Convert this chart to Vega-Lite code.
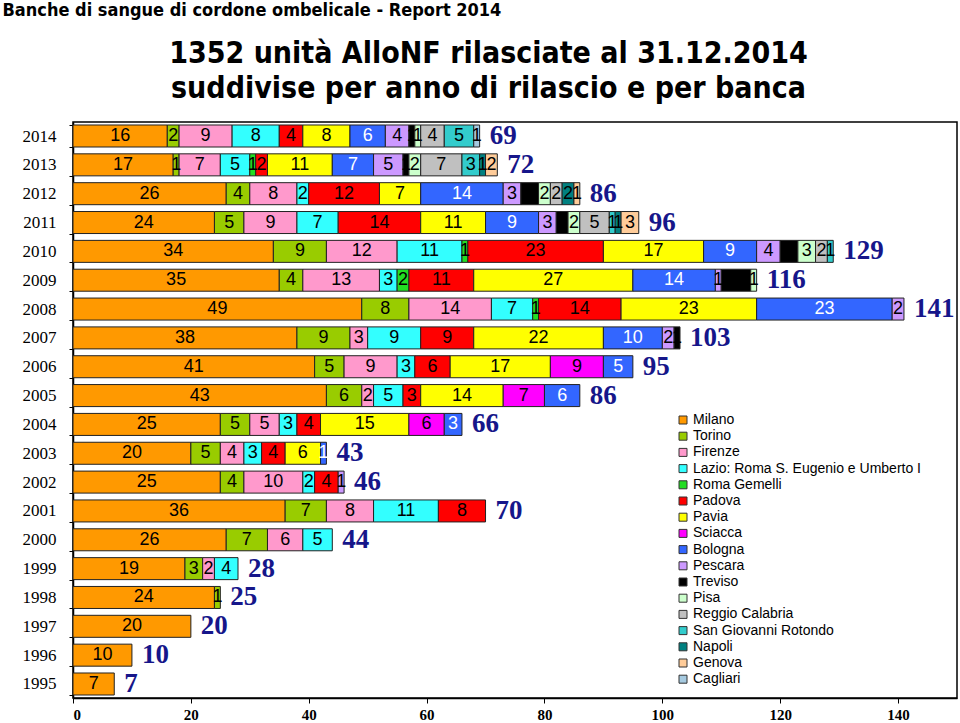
{
  "$schema": "https://vega.github.io/schema/vega-lite/v6.json",
  "autosize": {"type": "none"},
  "padding": {"left": 73, "top": 122, "right": 3, "bottom": 25},
  "width": 884,
  "height": 576,
  "background": "white",
  "config": {"view": {"stroke": "#000", "strokeWidth": 1.5}, "font": "Liberation Sans"},
  "datasets": {
    "banche": [
      {"banca": "Milano", "ord": 1},
      {"banca": "Torino", "ord": 2},
      {"banca": "Firenze", "ord": 3},
      {"banca": "Lazio: Roma S. Eugenio e Umberto I", "ord": 4},
      {"banca": "Roma Gemelli", "ord": 5},
      {"banca": "Padova", "ord": 6},
      {"banca": "Pavia", "ord": 7},
      {"banca": "Sciacca", "ord": 8},
      {"banca": "Bologna", "ord": 9},
      {"banca": "Pescara", "ord": 10},
      {"banca": "Treviso", "ord": 11},
      {"banca": "Pisa", "ord": 12},
      {"banca": "Reggio Calabria", "ord": 13},
      {"banca": "San Giovanni Rotondo", "ord": 14},
      {"banca": "Napoli", "ord": 15},
      {"banca": "Genova", "ord": 16},
      {"banca": "Cagliari", "ord": 17}
    ]
  },
  "data": {"values": [
    {"anno": 2014, "banca": "Milano", "n": 16},
    {"anno": 2014, "banca": "Torino", "n": 2},
    {"anno": 2014, "banca": "Firenze", "n": 9},
    {"anno": 2014, "banca": "Lazio: Roma S. Eugenio e Umberto I", "n": 8},
    {"anno": 2014, "banca": "Padova", "n": 4},
    {"anno": 2014, "banca": "Pavia", "n": 8},
    {"anno": 2014, "banca": "Bologna", "n": 6},
    {"anno": 2014, "banca": "Pescara", "n": 4},
    {"anno": 2014, "banca": "Treviso", "n": 1},
    {"anno": 2014, "banca": "Pisa", "n": 1},
    {"anno": 2014, "banca": "Reggio Calabria", "n": 4},
    {"anno": 2014, "banca": "San Giovanni Rotondo", "n": 5},
    {"anno": 2014, "banca": "Cagliari", "n": 1},

    {"anno": 2013, "banca": "Milano", "n": 17},
    {"anno": 2013, "banca": "Torino", "n": 1},
    {"anno": 2013, "banca": "Firenze", "n": 7},
    {"anno": 2013, "banca": "Lazio: Roma S. Eugenio e Umberto I", "n": 5},
    {"anno": 2013, "banca": "Roma Gemelli", "n": 1},
    {"anno": 2013, "banca": "Padova", "n": 2},
    {"anno": 2013, "banca": "Pavia", "n": 11},
    {"anno": 2013, "banca": "Bologna", "n": 7},
    {"anno": 2013, "banca": "Pescara", "n": 5},
    {"anno": 2013, "banca": "Treviso", "n": 1},
    {"anno": 2013, "banca": "Pisa", "n": 2},
    {"anno": 2013, "banca": "Reggio Calabria", "n": 7},
    {"anno": 2013, "banca": "San Giovanni Rotondo", "n": 3},
    {"anno": 2013, "banca": "Napoli", "n": 1},
    {"anno": 2013, "banca": "Genova", "n": 2},

    {"anno": 2012, "banca": "Milano", "n": 26},
    {"anno": 2012, "banca": "Torino", "n": 4},
    {"anno": 2012, "banca": "Firenze", "n": 8},
    {"anno": 2012, "banca": "Lazio: Roma S. Eugenio e Umberto I", "n": 2},
    {"anno": 2012, "banca": "Padova", "n": 12},
    {"anno": 2012, "banca": "Pavia", "n": 7},
    {"anno": 2012, "banca": "Bologna", "n": 14},
    {"anno": 2012, "banca": "Pescara", "n": 3},
    {"anno": 2012, "banca": "Treviso", "n": 3},
    {"anno": 2012, "banca": "Pisa", "n": 2},
    {"anno": 2012, "banca": "Reggio Calabria", "n": 2},
    {"anno": 2012, "banca": "Napoli", "n": 2},
    {"anno": 2012, "banca": "Genova", "n": 1},

    {"anno": 2011, "banca": "Milano", "n": 24},
    {"anno": 2011, "banca": "Torino", "n": 5},
    {"anno": 2011, "banca": "Firenze", "n": 9},
    {"anno": 2011, "banca": "Lazio: Roma S. Eugenio e Umberto I", "n": 7},
    {"anno": 2011, "banca": "Padova", "n": 14},
    {"anno": 2011, "banca": "Pavia", "n": 11},
    {"anno": 2011, "banca": "Bologna", "n": 9},
    {"anno": 2011, "banca": "Pescara", "n": 3},
    {"anno": 2011, "banca": "Treviso", "n": 2},
    {"anno": 2011, "banca": "Pisa", "n": 2},
    {"anno": 2011, "banca": "Reggio Calabria", "n": 5},
    {"anno": 2011, "banca": "San Giovanni Rotondo", "n": 1},
    {"anno": 2011, "banca": "Napoli", "n": 1},
    {"anno": 2011, "banca": "Genova", "n": 3},

    {"anno": 2010, "banca": "Milano", "n": 34},
    {"anno": 2010, "banca": "Torino", "n": 9},
    {"anno": 2010, "banca": "Firenze", "n": 12},
    {"anno": 2010, "banca": "Lazio: Roma S. Eugenio e Umberto I", "n": 11},
    {"anno": 2010, "banca": "Roma Gemelli", "n": 1},
    {"anno": 2010, "banca": "Padova", "n": 23},
    {"anno": 2010, "banca": "Pavia", "n": 17},
    {"anno": 2010, "banca": "Bologna", "n": 9},
    {"anno": 2010, "banca": "Pescara", "n": 4},
    {"anno": 2010, "banca": "Treviso", "n": 3},
    {"anno": 2010, "banca": "Pisa", "n": 3},
    {"anno": 2010, "banca": "Reggio Calabria", "n": 2},
    {"anno": 2010, "banca": "San Giovanni Rotondo", "n": 1},

    {"anno": 2009, "banca": "Milano", "n": 35},
    {"anno": 2009, "banca": "Torino", "n": 4},
    {"anno": 2009, "banca": "Firenze", "n": 13},
    {"anno": 2009, "banca": "Lazio: Roma S. Eugenio e Umberto I", "n": 3},
    {"anno": 2009, "banca": "Roma Gemelli", "n": 2},
    {"anno": 2009, "banca": "Padova", "n": 11},
    {"anno": 2009, "banca": "Pavia", "n": 27},
    {"anno": 2009, "banca": "Bologna", "n": 14},
    {"anno": 2009, "banca": "Pescara", "n": 1},
    {"anno": 2009, "banca": "Treviso", "n": 5},
    {"anno": 2009, "banca": "Pisa", "n": 1},

    {"anno": 2008, "banca": "Milano", "n": 49},
    {"anno": 2008, "banca": "Torino", "n": 8},
    {"anno": 2008, "banca": "Firenze", "n": 14},
    {"anno": 2008, "banca": "Lazio: Roma S. Eugenio e Umberto I", "n": 7},
    {"anno": 2008, "banca": "Roma Gemelli", "n": 1},
    {"anno": 2008, "banca": "Padova", "n": 14},
    {"anno": 2008, "banca": "Pavia", "n": 23},
    {"anno": 2008, "banca": "Bologna", "n": 23},
    {"anno": 2008, "banca": "Pescara", "n": 2},

    {"anno": 2007, "banca": "Milano", "n": 38},
    {"anno": 2007, "banca": "Torino", "n": 9},
    {"anno": 2007, "banca": "Firenze", "n": 3},
    {"anno": 2007, "banca": "Lazio: Roma S. Eugenio e Umberto I", "n": 9},
    {"anno": 2007, "banca": "Padova", "n": 9},
    {"anno": 2007, "banca": "Pavia", "n": 22},
    {"anno": 2007, "banca": "Bologna", "n": 10},
    {"anno": 2007, "banca": "Pescara", "n": 2},
    {"anno": 2007, "banca": "Treviso", "n": 1},

    {"anno": 2006, "banca": "Milano", "n": 41},
    {"anno": 2006, "banca": "Torino", "n": 5},
    {"anno": 2006, "banca": "Firenze", "n": 9},
    {"anno": 2006, "banca": "Lazio: Roma S. Eugenio e Umberto I", "n": 3},
    {"anno": 2006, "banca": "Padova", "n": 6},
    {"anno": 2006, "banca": "Pavia", "n": 17},
    {"anno": 2006, "banca": "Sciacca", "n": 9},
    {"anno": 2006, "banca": "Bologna", "n": 5},

    {"anno": 2005, "banca": "Milano", "n": 43},
    {"anno": 2005, "banca": "Torino", "n": 6},
    {"anno": 2005, "banca": "Firenze", "n": 2},
    {"anno": 2005, "banca": "Lazio: Roma S. Eugenio e Umberto I", "n": 5},
    {"anno": 2005, "banca": "Padova", "n": 3},
    {"anno": 2005, "banca": "Pavia", "n": 14},
    {"anno": 2005, "banca": "Sciacca", "n": 7},
    {"anno": 2005, "banca": "Bologna", "n": 6},

    {"anno": 2004, "banca": "Milano", "n": 25},
    {"anno": 2004, "banca": "Torino", "n": 5},
    {"anno": 2004, "banca": "Firenze", "n": 5},
    {"anno": 2004, "banca": "Lazio: Roma S. Eugenio e Umberto I", "n": 3},
    {"anno": 2004, "banca": "Padova", "n": 4},
    {"anno": 2004, "banca": "Pavia", "n": 15},
    {"anno": 2004, "banca": "Sciacca", "n": 6},
    {"anno": 2004, "banca": "Bologna", "n": 3},

    {"anno": 2003, "banca": "Milano", "n": 20},
    {"anno": 2003, "banca": "Torino", "n": 5},
    {"anno": 2003, "banca": "Firenze", "n": 4},
    {"anno": 2003, "banca": "Lazio: Roma S. Eugenio e Umberto I", "n": 3},
    {"anno": 2003, "banca": "Padova", "n": 4},
    {"anno": 2003, "banca": "Pavia", "n": 6},
    {"anno": 2003, "banca": "Bologna", "n": 1},

    {"anno": 2002, "banca": "Milano", "n": 25},
    {"anno": 2002, "banca": "Torino", "n": 4},
    {"anno": 2002, "banca": "Firenze", "n": 10},
    {"anno": 2002, "banca": "Lazio: Roma S. Eugenio e Umberto I", "n": 2},
    {"anno": 2002, "banca": "Padova", "n": 4},
    {"anno": 2002, "banca": "Pescara", "n": 1},

    {"anno": 2001, "banca": "Milano", "n": 36},
    {"anno": 2001, "banca": "Torino", "n": 7},
    {"anno": 2001, "banca": "Firenze", "n": 8},
    {"anno": 2001, "banca": "Lazio: Roma S. Eugenio e Umberto I", "n": 11},
    {"anno": 2001, "banca": "Padova", "n": 8},

    {"anno": 2000, "banca": "Milano", "n": 26},
    {"anno": 2000, "banca": "Torino", "n": 7},
    {"anno": 2000, "banca": "Firenze", "n": 6},
    {"anno": 2000, "banca": "Lazio: Roma S. Eugenio e Umberto I", "n": 5},

    {"anno": 1999, "banca": "Milano", "n": 19},
    {"anno": 1999, "banca": "Torino", "n": 3},
    {"anno": 1999, "banca": "Firenze", "n": 2},
    {"anno": 1999, "banca": "Lazio: Roma S. Eugenio e Umberto I", "n": 4},

    {"anno": 1998, "banca": "Milano", "n": 24},
    {"anno": 1998, "banca": "Torino", "n": 1},

    {"anno": 1997, "banca": "Milano", "n": 20},
    {"anno": 1996, "banca": "Milano", "n": 10},
    {"anno": 1995, "banca": "Milano", "n": 7}
  ]},
  "transform": [
    {"lookup": "banca", "from": {"data": {"name": "banche"}, "key": "banca", "fields": ["ord"]}}
  ],
  "layer": [
    {
      "mark": {"type": "bar", "stroke": "#222", "strokeWidth": 1},
      "encoding": {
        "y": {
          "field": "anno", "type": "ordinal", "sort": "descending",
          "scale": {"paddingInner": 0.237, "paddingOuter": 0.104},
          "axis": {
            "title": "Banche di sangue di cordone ombelicale - Report 2014",
            "titleAngle": 0, "titleX": -71, "titleY": -112,
            "titleAlign": "left", "titleBaseline": "middle",
            "titleFont": "Liberation Sans Narrow, DejaVu Sans Condensed, Liberation Sans", "titleFontSize": 18, "titleFontWeight": "bold", "titleColor": "#000",
            "labelFont": "Liberation Serif", "labelFontSize": 17, "labelColor": "#000",
            "labelPadding": 13, "tickSize": 4, "tickBand": "extent",
            "tickColor": "#000", "domainColor": "#000", "domainWidth": 1.5
          }
        },
        "x": {
          "field": "n", "type": "quantitative", "stack": "zero",
          "scale": {"domain": [0, 150], "nice": false},
          "axis": {
            "title": null, "grid": false, "values": [0, 20, 40, 60, 80, 100, 120, 140],
            "labelFont": "Liberation Serif", "labelFontWeight": "bold", "labelFontSize": 15,
            "labelColor": "#000", "tickSize": 5, "labelPadding": 4,
            "tickColor": "#000", "domainColor": "#000", "domainWidth": 1.5
          }
        },
        "order": {"field": "ord", "type": "quantitative", "sort": "ascending"},
        "color": {
          "field": "banca", "type": "nominal",
          "sort": ["Milano", "Torino", "Firenze", "Lazio: Roma S. Eugenio e Umberto I", "Roma Gemelli", "Padova", "Pavia", "Sciacca", "Bologna", "Pescara", "Treviso", "Pisa", "Reggio Calabria", "San Giovanni Rotondo", "Napoli", "Genova", "Cagliari"],
          "scale": {
            "domain": ["Milano", "Torino", "Firenze", "Lazio: Roma S. Eugenio e Umberto I", "Roma Gemelli", "Padova", "Pavia", "Sciacca", "Bologna", "Pescara", "Treviso", "Pisa", "Reggio Calabria", "San Giovanni Rotondo", "Napoli", "Genova", "Cagliari"],
            "range": ["#FF9900", "#99CC00", "#FF99CC", "#33FFFF", "#22DD22", "#FF0000", "#FFFF00", "#FF00FF", "#3366FF", "#CC99FF", "#000000", "#CCFFCC", "#C0C0C0", "#33CCCC", "#008080", "#FFCC99", "#A6CAE0"]
          },
          "legend": {
            "title": null, "orient": "none", "legendX": 603, "legendY": 291,
            "symbolType": "square", "symbolSize": 64, "symbolStrokeColor": "#333", "symbolStrokeWidth": 1,
            "labelFont": "Liberation Sans", "labelFontSize": 14, "labelColor": "#000", "labelLimit": 400,
            "labelOffset": 3, "rowPadding": 2.2, "padding": 0
          }
        }
      }
    },
    {
      "mark": {"type": "text", "fontSize": 18, "font": "Liberation Sans", "baseline": "middle"},
      "encoding": {
        "y": {"field": "anno", "type": "ordinal", "sort": "descending", "axis": null},
        "x": {"field": "n", "type": "quantitative", "stack": "zero", "bandPosition": 0.5},
        "order": {"field": "ord", "type": "quantitative", "sort": "ascending"},
        "text": {"field": "n", "type": "quantitative"},
        "color": {
          "field": "banca", "type": "nominal",
          "scale": {
            "domain": ["Milano", "Torino", "Firenze", "Lazio: Roma S. Eugenio e Umberto I", "Roma Gemelli", "Padova", "Pavia", "Sciacca", "Bologna", "Pescara", "Treviso", "Pisa", "Reggio Calabria", "San Giovanni Rotondo", "Napoli", "Genova", "Cagliari"],
            "range": ["#000", "#000", "#000", "#000", "#000", "#000", "#000", "#000", "#FFF", "#000", "#000", "#000", "#000", "#000", "#000", "#000", "#000"]
          },
          "legend": null
        }
      }
    },
    {
      "mark": {"type": "text", "align": "left", "baseline": "middle", "dx": 10, "font": "Liberation Serif", "fontWeight": "bold", "fontSize": 27, "color": "#16168A"},
      "encoding": {
        "y": {
          "field": "anno", "type": "ordinal", "sort": "descending",
          "axis": {
            "orient": "right", "labels": false, "ticks": false, "domain": false,
            "title": ["1352 unità AlloNF rilasciate al 31.12.2014", "suddivise per anno di rilascio e per banca"],
            "titleAngle": 0, "titleX": -469, "titleY": -84,
            "titleAlign": "center", "titleBaseline": "top", "titleLineHeight": 35,
            "titleFont": "Liberation Sans Narrow, DejaVu Sans Condensed, Liberation Sans", "titleFontSize": 30, "titleFontWeight": "bold", "titleColor": "#000"
          }
        },
        "x": {"aggregate": "sum", "field": "n", "type": "quantitative"},
        "text": {"aggregate": "sum", "field": "n", "type": "quantitative"}
      }
    }
  ],
  "resolve": {"scale": {"color": "independent"}, "axis": {"y": "independent"}}
}
